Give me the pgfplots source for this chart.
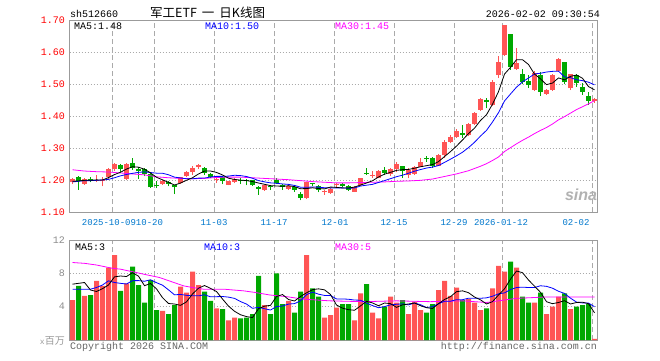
\documentclass[border=0pt]{standalone}
\usepackage{fontspec}
\setmainfont{Liberation Mono}
\newfontfamily\cjk{Noto Sans CJK SC}
\newfontfamily\lsans{Liberation Sans}
\usepackage{pgfplots}
\usepackage{pgfplotstable}
\pgfplotsset{compat=1.18}

\definecolor{upred}{RGB}{255,85,85}
\definecolor{dngreen}{RGB}{0,168,0}
\definecolor{datecol}{RGB}{0,119,204}
\definecolor{framegray}{RGB}{155,155,155}
\definecolor{gridgray}{RGB}{170,170,170}
\definecolor{mag}{RGB}{255,0,255}
\definecolor{mablue}{RGB}{0,0,255}

\pgfplotstableread{
i lo hi bl bh
0 1.1875 1.205 1.193 1.203
2 1.185 1.205 1.1875 1.2042
4 1.1927 1.2146 1.198 1.201
5 1.180 1.208 1.196 1.201
6 1.204 1.2375 1.208 1.234
7 1.227 1.252 1.234 1.251
9 1.200 1.252 1.203 1.251
15 1.185 1.200 1.1875 1.198
18 1.189 1.210 1.191 1.208
19 1.209 1.227 1.211 1.225
20 1.217 1.2427 1.225 1.2375
21 1.235 1.250 1.2417 1.2469
24 1.1906 1.2115 1.199 1.203
26 1.183 1.198 1.1854 1.196
27 1.190 1.206 1.194 1.203
32 1.166 1.185 1.168 1.183
36 1.170 1.184 1.173 1.182
39 1.142 1.195 1.144 1.193
42 1.154 1.168 1.1625 1.1656
43 1.157 1.175 1.159 1.173
44 1.174 1.192 1.1833 1.1875
47 1.162 1.181 1.164 1.179
48 1.182 1.207 1.184 1.205
50 1.207 1.228 1.213 1.216
51 1.205 1.230 1.207 1.228
53 1.214 1.236 1.218 1.234
54 1.224 1.257 1.234 1.249
56 1.205 1.236 1.216 1.231
57 1.216 1.244 1.219 1.242
58 1.241 1.268 1.242 1.257
61 1.243 1.280 1.245 1.278
62 1.268 1.325 1.278 1.320
63 1.315 1.341 1.320 1.335
64 1.332 1.359 1.335 1.354
66 1.338 1.378 1.340 1.375
67 1.372 1.4135 1.375 1.408
68 1.417 1.456 1.419 1.453
70 1.432 1.512 1.434 1.507
71 1.518 1.589 1.528 1.570
72 1.589 1.684 1.591 1.684
74 1.544 1.611 1.546 1.567
77 1.478 1.540 1.481 1.533
79 1.466 1.484 1.469 1.481
80 1.479 1.530 1.481 1.528
81 1.538 1.580 1.542 1.577
83 1.481 1.530 1.486 1.530
87 1.442 1.455 1.447 1.452
}\upc

\pgfplotstableread{
i lo hi bl bh
1 1.170 1.2125 1.1958 1.2083
3 1.1927 1.2083 1.198 1.204
8 1.224 1.251 1.234 1.248
10 1.232 1.269 1.2375 1.253
11 1.204 1.2406 1.227 1.2354
12 1.2115 1.2375 1.219 1.234
13 1.175 1.225 1.177 1.219
14 1.175 1.196 1.182 1.1854
16 1.180 1.196 1.1875 1.193
17 1.156 1.184 1.177 1.183
22 1.217 1.240 1.222 1.237
23 1.207 1.222 1.209 1.220
25 1.1875 1.211 1.198 1.208
28 1.1875 1.206 1.198 1.201
29 1.183 1.204 1.196 1.199
30 1.181 1.201 1.183 1.199
31 1.154 1.180 1.173 1.179
33 1.168 1.185 1.177 1.182
34 1.189 1.205 1.191 1.201
35 1.169 1.189 1.177 1.185
37 1.1625 1.180 1.170 1.177
38 1.136 1.161 1.144 1.157
40 1.180 1.191 1.188 1.191
41 1.161 1.183 1.170 1.180
45 1.177 1.192 1.181 1.1865
46 1.167 1.184 1.169 1.181
49 1.217 1.236 1.218 1.221
52 1.216 1.242 1.223 1.231
55 1.207 1.244 1.228 1.244
59 1.257 1.276 1.265 1.268
60 1.238 1.273 1.245 1.268
65 1.332 1.372 1.340 1.346
69 1.424 1.455 1.443 1.450
73 1.544 1.656 1.554 1.656
75 1.499 1.547 1.505 1.531
76 1.487 1.528 1.497 1.510
78 1.462 1.538 1.476 1.528
82 1.500 1.570 1.505 1.568
84 1.492 1.530 1.502 1.528
85 1.466 1.502 1.476 1.492
86 1.434 1.476 1.448 1.464
}\dnc

\pgfplotsset{
  kaxis/.style={scale only axis, anchor=south west, width=528pt,
    xmin=-0.5, xmax=87.5,
    axis line style={framegray, line width=1pt},
    xtick={6.583,13.583,23.583,33.583,43.583,53.583,63.583,71.583,86.583},
    xticklabels={},
    major tick length=0pt,
    xmajorgrids, ymajorgrids,
    x grid style={gridgray, line width=0.8pt, dash pattern=on 5pt off 3pt},
    y grid style={gridgray, line width=0.8pt, dash pattern=on 1pt off 2pt},
    yticklabel style={font=\fontsize{10}{10}\selectfont, xshift=-1pt},
  },
  wk/.style={draw=none, no markers,
    error bars/y dir=plus, error bars/y explicit, error bars/error mark=none,
    error bars/error bar style={line width=1pt, draw=#1, solid}},
  bd/.style={draw=none, no markers,
    error bars/y dir=plus, error bars/y explicit, error bars/error mark=none,
    error bars/error bar style={line width=5pt, draw=#1, solid}},
  maline/.style={#1, line width=0.8pt, mark=none, sharp plot},
}

\begin{document}
\begin{tikzpicture}[x=1pt,y=1pt]
\path[use as bounding box] (0,0) rectangle (660,360);

% ---------------- price panel ----------------
\begin{axis}[kaxis, at={(69.5pt,148pt)}, height=192pt,
  ymin=1.10, ymax=1.70,
  ytick={1.1,1.2,1.3,1.4,1.5,1.6,1.7},
  yticklabels={1.10,1.20,1.30,1.40,1.50,1.60,1.70},
  yticklabel style={text=red}]
\addplot[wk=upred] table[x=i,y=lo,y error expr=\thisrow{hi}-\thisrow{lo}] {\upc};
\addplot[bd=upred] table[x=i,y=bl,y error expr=\thisrow{bh}-\thisrow{bl}] {\upc};
\addplot[wk=dngreen] table[x=i,y=lo,y error expr=\thisrow{hi}-\thisrow{lo}] {\dnc};
\addplot[bd=dngreen] table[x=i,y=bl,y error expr=\thisrow{bh}-\thisrow{bl}] {\dnc};
% MA30
\addplot[maline=mag] table {
0 1.232
2 1.228
4 1.226
6 1.225
8 1.222
10 1.219
12 1.216
14 1.210
16 1.207
18 1.205
20 1.204
22 1.205
24 1.208
26 1.209
28 1.209
30 1.207
32 1.205
34 1.203
36 1.201
38 1.198
40 1.195
42 1.193
44 1.191
46 1.191
48 1.192
50 1.193
52 1.194
54 1.196
56 1.197
58 1.199
59 1.201
60 1.203
61 1.207
62 1.211
63 1.215
64 1.219
65 1.224
66 1.229
67 1.236
68 1.243
69 1.251
70 1.261
71 1.272
72 1.289
73 1.301
74 1.313
75 1.324
76 1.334
77 1.345
78 1.355
79 1.364
80 1.375
81 1.388
82 1.398
83 1.409
84 1.420
85 1.429
86 1.438
87 1.448
};
% MA10
\addplot[maline=mablue] table {
0 1.194
1 1.196
2 1.198
3 1.198
4 1.199
5 1.200
6 1.202
7 1.207
8 1.213
9 1.2173
10 1.2208
11 1.2239
12 1.2254
13 1.2233
14 1.2214
15 1.2211
16 1.2164
17 1.209
18 1.2064
19 1.2038
20 1.2038
21 1.2058
22 1.2061
23 1.2093
24 1.2114
25 1.2114
26 1.2122
27 1.2148
28 1.2138
29 1.2109
30 1.2055
31 1.1981
32 1.1942
33 1.191
34 1.1898
35 1.1877
36 1.1863
37 1.183
38 1.1776
39 1.1773
40 1.178
41 1.1777
42 1.1758
43 1.1754
44 1.1751
45 1.1755
46 1.1742
47 1.1751
48 1.1812
49 1.1838
50 1.1864
51 1.1922
52 1.1981
53 1.2042
54 1.2103
55 1.215
56 1.2212
57 1.2275
58 1.2327
59 1.2374
60 1.2403
61 1.2453
62 1.255
63 1.2651
64 1.2756
65 1.2868
66 1.3012
67 1.3178
68 1.3374
69 1.3551
70 1.3813
71 1.4105
72 1.4469
73 1.4688
74 1.4901
75 1.5066
76 1.5188
77 1.5313
78 1.5336
79 1.5374
80 1.5395
81 1.5402
82 1.5223
83 1.5199
84 1.5134
85 1.5105
86 1.5056
87 1.4975
};
% MA5
\addplot[maline=black] table {
0 1.196
1 1.197
2 1.199
3 1.199
4 1.2004
5 1.200
6 1.2076
7 1.217
8 1.2242
9 1.2342
10 1.2415
11 1.2401
12 1.2337
13 1.2223
14 1.2085
15 1.2006
16 1.1927
17 1.1843
18 1.1905
19 1.1991
20 1.207
21 1.2189
22 1.2279
23 1.2281
24 1.2237
25 1.2158
26 1.2056
27 1.2018
28 1.1996
29 1.1982
30 1.1952
31 1.1906
32 1.1866
33 1.1824
34 1.1814
35 1.1802
36 1.182
37 1.1794
38 1.1728
39 1.1732
40 1.1757
41 1.1733
42 1.1722
43 1.178
44 1.1769
45 1.1752
46 1.175
47 1.1779
48 1.1843
49 1.1906
50 1.1976
51 1.2094
52 1.2182
53 1.224
54 1.230
55 1.2324
56 1.233
57 1.2368
58 1.2414
59 1.2448
60 1.2482
61 1.2576
62 1.2732
63 1.2888
64 1.306
65 1.325
66 1.345
67 1.362
68 1.386
69 1.404
70 1.437
71 1.476
72 1.531
73 1.552
74 1.576
75 1.576
76 1.561
77 1.531
78 1.516
79 1.498
80 1.503
81 1.519
82 1.513
83 1.524
84 1.528
85 1.518
86 1.492
87 1.482
};
\end{axis}

% ---------------- volume panel ----------------
\begin{axis}[kaxis, at={(69.5pt,20pt)}, height=100pt,
  ymin=0, ymax=12, ytick={4,8,12}, yticklabels={4,8,12},
  yticklabel style={text=black!45}]
\addplot[ybar, bar width=5pt, bar shift=0pt, fill=upred, draw=none] table[x=i,y=v] {
i v
0 4.8
2 5.3
4 7.1
5 6.5
6 8.7
7 10.2
9 6.8
15 3.5
18 6.4
19 5.7
20 8.2
21 6.6
24 3.8
26 2.35
27 2.7
32 4.2
36 4.7
39 10.2
42 2.7
43 3.0
44 3.9
47 2.35
48 5.6
50 3.3
51 2.6
53 5.2
54 4.5
56 3.1
57 4.6
58 3.6
61 6.0
62 7.1
63 5.3
64 6.3
66 4.9
67 4.5
68 3.6
70 6.2
71 8.9
72 8.2
74 8.7
77 4.5
79 3.1
80 4.0
81 5.2
83 3.7
87 0.15
};
\addplot[ybar, bar width=5pt, bar shift=0pt, fill=dngreen, draw=none] table[x=i,y=v] {
i v
1 6.5
3 5.4
8 5.9
10 8.8
11 6.6
12 4.5
13 7.2
14 3.6
16 3.1
17 4.2
22 5.8
23 4.7
25 3.7
28 2.6
29 2.7
30 3.1
31 7.7
33 3.1
34 8.0
35 4.3
37 3.3
38 5.8
40 6.2
41 5.2
45 4.3
46 4.3
49 6.7
52 4.0
55 4.8
59 3.3
60 4.3
65 4.8
69 3.8
73 9.4
75 5.2
76 4.5
78 5.7
82 5.6
84 4.0
85 4.2
86 4.3
};
% vol MA30
\addplot[maline=mag] table {
0 9.3
2 9.2
4 9.0
6.7 8.6
8 8.5
10.6 8.1
12.5 7.8
14.5 7.5
16.5 7.0
18.5 6.5
20 6.3
21.8 6.1
25.2 6.1
28.5 5.9
30.5 5.7
32.9 5.4
35.7 5.2
38.5 4.9
42.9 4.7
48.5 4.6
54 4.7
59.6 4.6
65.1 4.7
69 4.5
72 4.8
74 5.0
78.5 5.15
87 5.15
};
% vol MA10
\addplot[maline=mablue] table {
0 6.1
1 6.1
2 6.1
3 6.1
4 6.3
5 6.6
6 7.1
7 6.9
8 6.8
9 6.72
10 7.12
11 7.13
12 7.05
13 7.23
14 6.88
15 6.58
16 6.02
17 5.42
18 5.47
19 5.36
20 5.3
21 5.3
22 5.43
23 5.18
24 5.2
25 5.22
26 5.145
27 4.995
28 4.615
29 4.315
30 3.805
31 3.915
32 3.755
33 3.595
34 4.015
35 4.075
36 4.31
37 4.37
38 4.69
39 5.44
40 5.75
41 5.5
42 5.35
43 5.34
44 4.93
45 4.93
46 4.89
47 4.795
48 4.775
49 4.425
50 4.135
51 3.875
52 4.005
53 4.225
54 4.285
55 4.335
56 4.215
57 4.44
58 4.24
59 3.9
60 4.0
61 4.34
62 4.65
63 4.66
64 4.84
65 4.84
66 5.02
67 5.01
68 5.01
69 5.06
70 5.25
71 5.54
72 5.65
73 6.06
74 6.3
75 6.34
76 6.3
77 6.3
78 6.51
79 6.44
80 6.22
81 5.85
82 5.59
83 5.02
84 4.55
85 4.45
86 4.43
87 3.995
};
% vol MA5
\addplot[maline=black] table {
0 6.7
1 6.8
2 6.9
3 6.0
4 5.82
5 6.16
6 6.6
7 7.58
8 7.68
9 7.62
10 8.08
11 7.66
12 6.52
13 6.78
14 6.14
15 5.08
16 4.38
17 4.32
18 4.16
19 4.58
20 5.52
21 6.22
22 6.54
23 6.2
24 5.82
25 4.92
26 4.07
27 3.45
28 3.03
29 2.81
30 2.69
31 3.76
32 4.06
33 4.16
34 5.22
35 5.46
36 4.86
37 4.68
38 5.22
39 5.66
40 6.04
41 6.14
42 6.02
43 5.46
44 4.2
45 3.82
46 3.64
47 3.57
48 4.09
49 4.65
50 4.45
51 4.11
52 4.44
53 4.36
54 3.92
55 4.22
56 4.32
57 4.44
58 4.12
59 3.88
60 3.78
61 4.36
62 4.86
63 5.2
64 5.8
65 5.9
66 5.68
67 5.16
68 4.82
69 4.32
70 4.6
71 5.4
72 6.14
73 7.3
74 8.28
75 8.08
76 7.2
77 6.46
78 5.72
79 4.6
80 4.36
81 4.5
82 4.72
83 4.32
84 4.5
85 4.54
86 4.36
87 3.27
};
\end{axis}

% ---------------- texts ----------------
\node[anchor=base west, inner sep=0pt] at (70,343) {sh512660};
\node[anchor=base west, inner sep=0pt, font=\cjk\fontsize{12.5}{12.5}\selectfont] at (150,343) {军工ETF\hspace{5pt}一\hspace{5pt}日K线图};
\node[anchor=base east, inner sep=0pt] at (600,343) {2026-02-02 09:30:54};

\node[anchor=base west, inner sep=0pt] at (74,331) {MA5:1.48};
\node[anchor=base west, inner sep=0pt, text=mablue] at (205,331) {MA10:1.50};
\node[anchor=base west, inner sep=0pt, text=mag] at (335,331) {MA30:1.45};

\node[anchor=base west, inner sep=0pt] at (75,110) {MA5:3};
\node[anchor=base west, inner sep=0pt, text=mablue] at (204,110) {MA10:3};
\node[anchor=base west, inner sep=0pt, text=mag] at (335,110) {MA30:5};

\begin{scope}[every node/.style={anchor=base, inner sep=0pt, text=datecol, font=\fontsize{9}{9}\selectfont}]
\node at (109,135) {2025-10-09};
\node at (149.5,135) {10-20};
\node at (214,135) {11-03};
\node at (274,135) {11-17};
\node at (335,135) {12-01};
\node at (394,135) {12-15};
\node at (454,135) {12-29};
\node at (501,135) {2026-01-12};
\node at (576,135) {02-02};
\end{scope}

\node[anchor=base east, inner sep=0pt, text=black!40] at (65,16) {\fontsize{8}{8}\selectfont x\cjk\fontsize{10}{10}\selectfont 百万};
\node[anchor=base west, inner sep=0pt, text=black!60] at (70,11) {Copyright 2026 SINA.COM};
\node[anchor=base east, inner sep=0pt, text=black!60] at (597,11) {http://finance.sina.com.cn};

\node[text=black!30, font=\lsans\bfseries\itshape\fontsize{16}{16}\selectfont] at (581,165) {sina};
\end{tikzpicture}
\end{document}
